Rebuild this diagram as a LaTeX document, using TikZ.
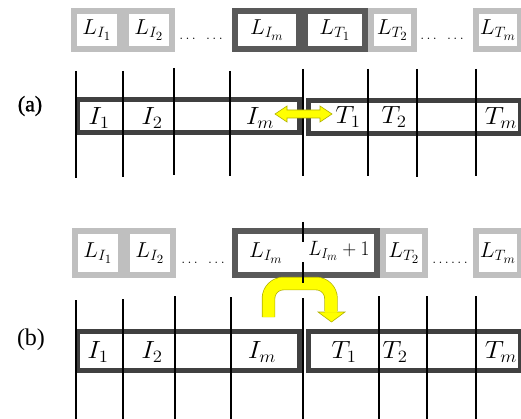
\documentclass[tikz,border=0pt]{standalone}
\usepackage{graphicx}
\usepackage{fontspec}
\newfontfamily\labfont{Liberation Serif}
\newfontfamily\labfontb[FakeBold=1.2]{Liberation Serif}
\newcommand\Lt[1]{\scalebox{1.28}[1.25]{$#1$}}
\newcommand\Ls[1]{\scalebox{1.12}[1.2]{$#1$}}
\newcommand\Bt[1]{\scalebox{1.3}[1.2]{$#1$}}
\definecolor{lightb}{HTML}{BFBFBF}
\definecolor{darkb}{HTML}{595959}
\definecolor{barb}{HTML}{404040}
\definecolor{ylw}{HTML}{FFFF00}
\definecolor{ylwedge}{HTML}{B0B000}
\begin{document}
\begin{tikzpicture}[x=1pt,y=-1pt,
  lbox/.style={draw=lightb, fill=white, line width=6pt, inner sep=0pt, font=\fontsize{17.28}{21}\selectfont},
  dbox/.style={lbox, draw=darkb},
  barbox/.style={draw=barb, line width=5pt, fill=white, inner sep=0pt},
  vline/.style={line width=1.6pt, black},
  blab/.style={font=\fontsize{20.74}{24}\selectfont, inner sep=0pt},
  ltext/.style={font=\fontsize{17.28}{21}\selectfont, inner sep=0pt},
  dots/.style={font=\fontsize{14.4}{18}\selectfont, inner sep=0pt, anchor=base},
  plab/.style={font=\labfont\fontsize{23}{26}\selectfont, inner sep=0pt},
  yarrow/.style={fill=ylw, draw=ylwedge, line width=0.6pt}
]
\useasboundingbox (0,0) rectangle (521,419);

% ---------------- (a) ----------------
\node[lbox, minimum width=46, minimum height=38] (aLI1) at (97,30) {\Lt{L_{I_1}}};
\node[lbox, minimum width=46, minimum height=38] (aLI2) at (149,30) {\Lt{L_{I_2}}};
\node[dots] (adots1) at (201,40) {$\ldots\;\;\ldots$};
\node[dbox, minimum width=64, minimum height=38] (aLIm) at (267,30) {\Lt{L_{I_m}}};
\node[dbox, minimum width=60, minimum height=38] (aLT1) at (335,30) {\Lt{L_{T_1}}};
\node[lbox, minimum width=43, minimum height=38] (aLT2) at (392.5,30) {\Lt{L_{T_2}}};
\node[dots] (adots2) at (442,40) {$\ldots\;\;\ldots$};
\node[lbox, minimum width=44, minimum height=38] (aLTm) at (498,30) {\Lt{L_{T_m}}};

\node[barbox, minimum width=222, minimum height=33] (aIbar) at (188.5,116) {};
\node[barbox, minimum width=212, minimum height=33] (aTbar) at (414.5,117) {};

\foreach \x/\t/\b in {76/71/178,123/71/177,174/68/175,230/71/176,303/69/176,368/69/176,417/69/177,476/69/176}
  \draw[vline] (\x,\t) -- (\x,\b);

\node[blab] (aI1) at (99,118) {\Bt{I_1}};
\node[blab] (aI2) at (152,118) {\Bt{I_2}};
\node[blab] (aIm) at (260,118) {\Bt{I_m}};
\node[blab] (aT1) at (348,117) {\Bt{T_1}};
\node[blab] (aT2) at (394,117) {\Bt{T_2}};
\node[blab] (aTm) at (501,118) {\Bt{T_m}};

\filldraw[yarrow] (275,114) -- (287,106) -- (287,110) -- (320,110) -- (320,106) -- (332,114)
  -- (320,122) -- (320,118) -- (287,118) -- (287,122) -- cycle;

\node[plab, font=\labfontb\fontsize{22}{26}\selectfont] (alab) at (30,106) {(a)};

% ---------------- (b) ----------------
\node[lbox, minimum width=46, minimum height=44] (bLI1) at (98,253) {\Lt{L_{I_1}}};
\node[lbox, minimum width=46, minimum height=44] (bLI2) at (150,253) {\Lt{L_{I_2}}};
\node[dots] (bdots1) at (203,263) {$\ldots\;\;\ldots$};
\node[dbox, minimum width=142, minimum height=44] (bLIm) at (306,253) {};
\node[ltext] (bLImt) at (266,253) {\Lt{L_{I_m}}};
\node[ltext] (bLIm1t) at (339,251) {\Ls{L_{I_m}+1}};
\node[lbox, minimum width=42, minimum height=44] (bLT2) at (404,253) {\Lt{L_{T_2}}};
\node[dots] (bdots2) at (450,263) {$\ldots\ldots$};
\node[lbox, minimum width=44, minimum height=44] (bLTm) at (498,253) {\Lt{L_{T_m}}};

\node[barbox, minimum width=222, minimum height=39] (bIbar) at (188.5,351) {};
\node[barbox, minimum width=212, minimum height=39] (bTbar) at (414.5,351) {};

\foreach \x/\t in {76/300,123/299,175/296,231/297,303/298,379/296,427/296,476/296}
  \draw[vline] (\x,\t) -- (\x,419);

\node[blab] (bI1) at (98,352) {\Bt{I_1}};
\node[blab] (bI2) at (152,352) {\Bt{I_2}};
\node[blab] (bIm) at (262,352) {\Bt{I_m}};
\node[blab] (bT1) at (344,352) {\Bt{T_1}};
\node[blab] (bT2) at (395,352) {\Bt{T_2}};
\node[blab] (bTm) at (501,352) {\Bt{T_m}};

% U-turn arrow
\draw[ylwedge, line width=13.4pt, rounded corners=15pt] (268.5,317) -- (268.5,283.5) -- (331,283.5) -- (331,311);
\filldraw[yarrow] (318,312) -- (345,312) -- (331.5,322) -- cycle;
\draw[ylw, line width=12pt, rounded corners=15pt] (268.5,317.2) -- (268.5,283.5) -- (331,283.5) -- (331,312.6);

\draw[vline] (303,222) -- (303,242);
\draw[vline] (303,262) -- (303,283);

\node[plab, font=\labfont\fontsize{24}{28}\selectfont] (blab) at (31,340) {(b)};
\end{tikzpicture}
\end{document}
